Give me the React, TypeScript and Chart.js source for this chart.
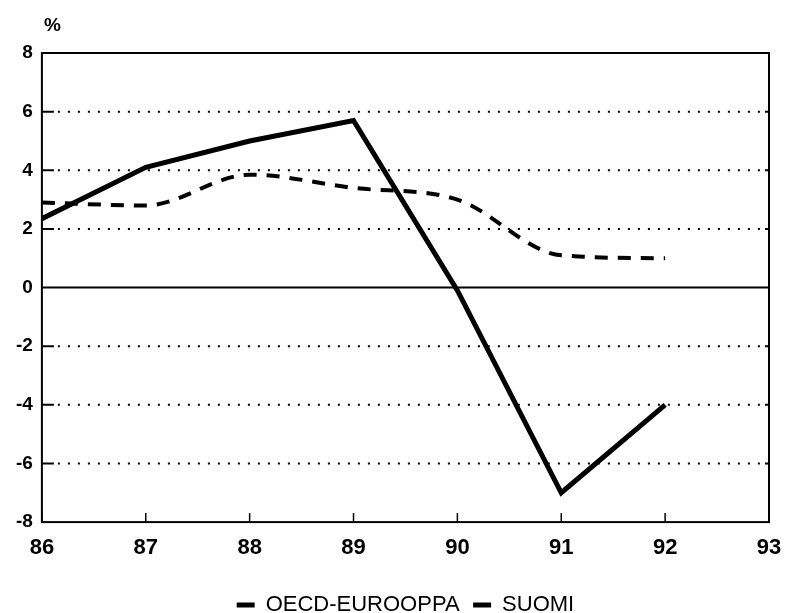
import React, { useEffect, useRef } from "react";
import { Chart, registerables } from "chart.js";

Chart.register(...registerables);

const years = [86, 87, 88, 89, 90, 91, 92];
const oecdEurooppa = [2.9, 2.8, 3.85, 3.4, 3.0, 1.1, 1.0];
const suomi = [2.35, 4.1, 5.0, 5.7, -0.1, -7.0, -4.0];
const yTicks = [-8, -6, -4, -2, 0, 2, 4, 6, 8];
const xTicks = [86, 87, 88, 89, 90, 91, 92, 93];
const seriesLabels = ["OECD-EUROOPPA", "SUOMI"];
const yUnit = "%";

const FONT = "'Liberation Sans', Arial, Helvetica, sans-serif";

const framePlugin = {
  id: "frame",
  beforeDatasetsDraw(chart: any) {
    const { ctx, chartArea } = chart;
    const ys = chart.scales.y;
    const xs = chart.scales.x;
    ctx.save();
    ctx.strokeStyle = "#000";
    yTicks.forEach((v) => {
      if (v === yTicks[0] || v === yTicks[yTicks.length - 1]) return;
      const py = ys.getPixelForValue(v);
      if (v === 0) {
        ctx.setLineDash([]);
        ctx.lineWidth = 2;
        ctx.beginPath();
        ctx.moveTo(chartArea.left, py);
        ctx.lineTo(chartArea.right, py);
        ctx.stroke();
      } else {
        ctx.setLineDash([2, 8]);
        ctx.lineWidth = 2;
        ctx.beginPath();
        ctx.moveTo(chartArea.left + 16, py);
        ctx.lineTo(chartArea.right - 4, py);
        ctx.stroke();
        ctx.setLineDash([]);
        ctx.lineWidth = 2;
        ctx.beginPath();
        ctx.moveTo(chartArea.left, py);
        ctx.lineTo(chartArea.left + 12, py);
        ctx.moveTo(chartArea.right, py);
        ctx.lineTo(chartArea.right - 4, py);
        ctx.stroke();
      }
    });
    ctx.setLineDash([]);
    ctx.lineWidth = 1.5;
    xTicks.forEach((v) => {
      const px = xs.getPixelForValue(v);
      ctx.beginPath();
      ctx.moveTo(px, chartArea.bottom);
      ctx.lineTo(px, chartArea.bottom - 9);
      ctx.stroke();
    });
    ctx.lineWidth = 2;
    ctx.strokeRect(chartArea.left, chartArea.top, chartArea.right - chartArea.left, chartArea.bottom - chartArea.top);
    ctx.fillStyle = "#000";
    ctx.font = "bold 19px " + FONT;
    ctx.textAlign = "left";
    ctx.textBaseline = "alphabetic";
    ctx.fillText(yUnit, chartArea.left + 2, chartArea.top - 22);
    ctx.restore();
  },
};

export default function App() {
  const ref = useRef<HTMLCanvasElement | null>(null);
  useEffect(() => {
    if (!ref.current) return;
    const chart = new Chart(ref.current, {
      type: "line",
      data: {
        datasets: [
          {
            label: seriesLabels[0],
            data: years.map((x, i) => ({ x, y: oecdEurooppa[i] })),
            borderColor: "#000",
            backgroundColor: "#000",
            borderWidth: 4,
            borderDash: [13, 10],
            cubicInterpolationMode: "monotone",
            pointRadius: 0,
            fill: false,
          },
          {
            label: seriesLabels[1],
            data: years.map((x, i) => ({ x, y: suomi[i] })),
            borderColor: "#000",
            backgroundColor: "#000",
            borderWidth: 5,
            tension: 0,
            pointRadius: 0,
            fill: false,
          },
        ],
      },
      plugins: [framePlugin],
      options: {
        animation: false,
        responsive: true,
        maintainAspectRatio: false,
        layout: { padding: { top: 53, right: 16, left: 7, bottom: -13 } },
        plugins: {
          tooltip: { enabled: false },
          legend: {
            position: "bottom",
            fullSize: false,
            labels: {
              color: "#000",
              font: { family: FONT, size: 22 },
              boxWidth: 18,
              boxHeight: 5,
              padding: 13.5,
              generateLabels: (c: any) =>
                Chart.defaults.plugins.legend.labels.generateLabels(c).map((it: any) => ({
                  ...it,
                  lineDash: [],
                  lineWidth: 0,
                })),
            },
          },
        },
        scales: {
          x: {
            type: "linear",
            min: 86,
            max: 93,
            afterBuildTicks: (s: any) => {
              s.ticks = xTicks.map((v) => ({ value: v }));
            },
            afterFit: (s: any) => {
              s.paddingRight = 0;
              s.paddingLeft = 0;
              s.height += 6;
            },
            grid: { display: false, drawTicks: false },
            border: { display: false },
            ticks: {
              color: "#000",
              padding: 13,
              font: { family: FONT, size: 22, weight: "bold" },
            },
          },
          y: {
            min: -8,
            max: 8,
            afterBuildTicks: (s: any) => {
              s.ticks = yTicks.map((v) => ({ value: v }));
            },
            grid: { display: false, drawTicks: false },
            border: { display: false },
            ticks: {
              color: "#000",
              padding: 9,
              font: { family: FONT, size: 19, weight: "bold" },
            },
          },
        },
      },
    } as any);
    return () => chart.destroy();
  }, []);
  return (
    <div style={{ position: "fixed", left: 0, top: 0, width: 785, height: 613, background: "#fff" }}>
      <canvas ref={ref} />
    </div>
  );
}
